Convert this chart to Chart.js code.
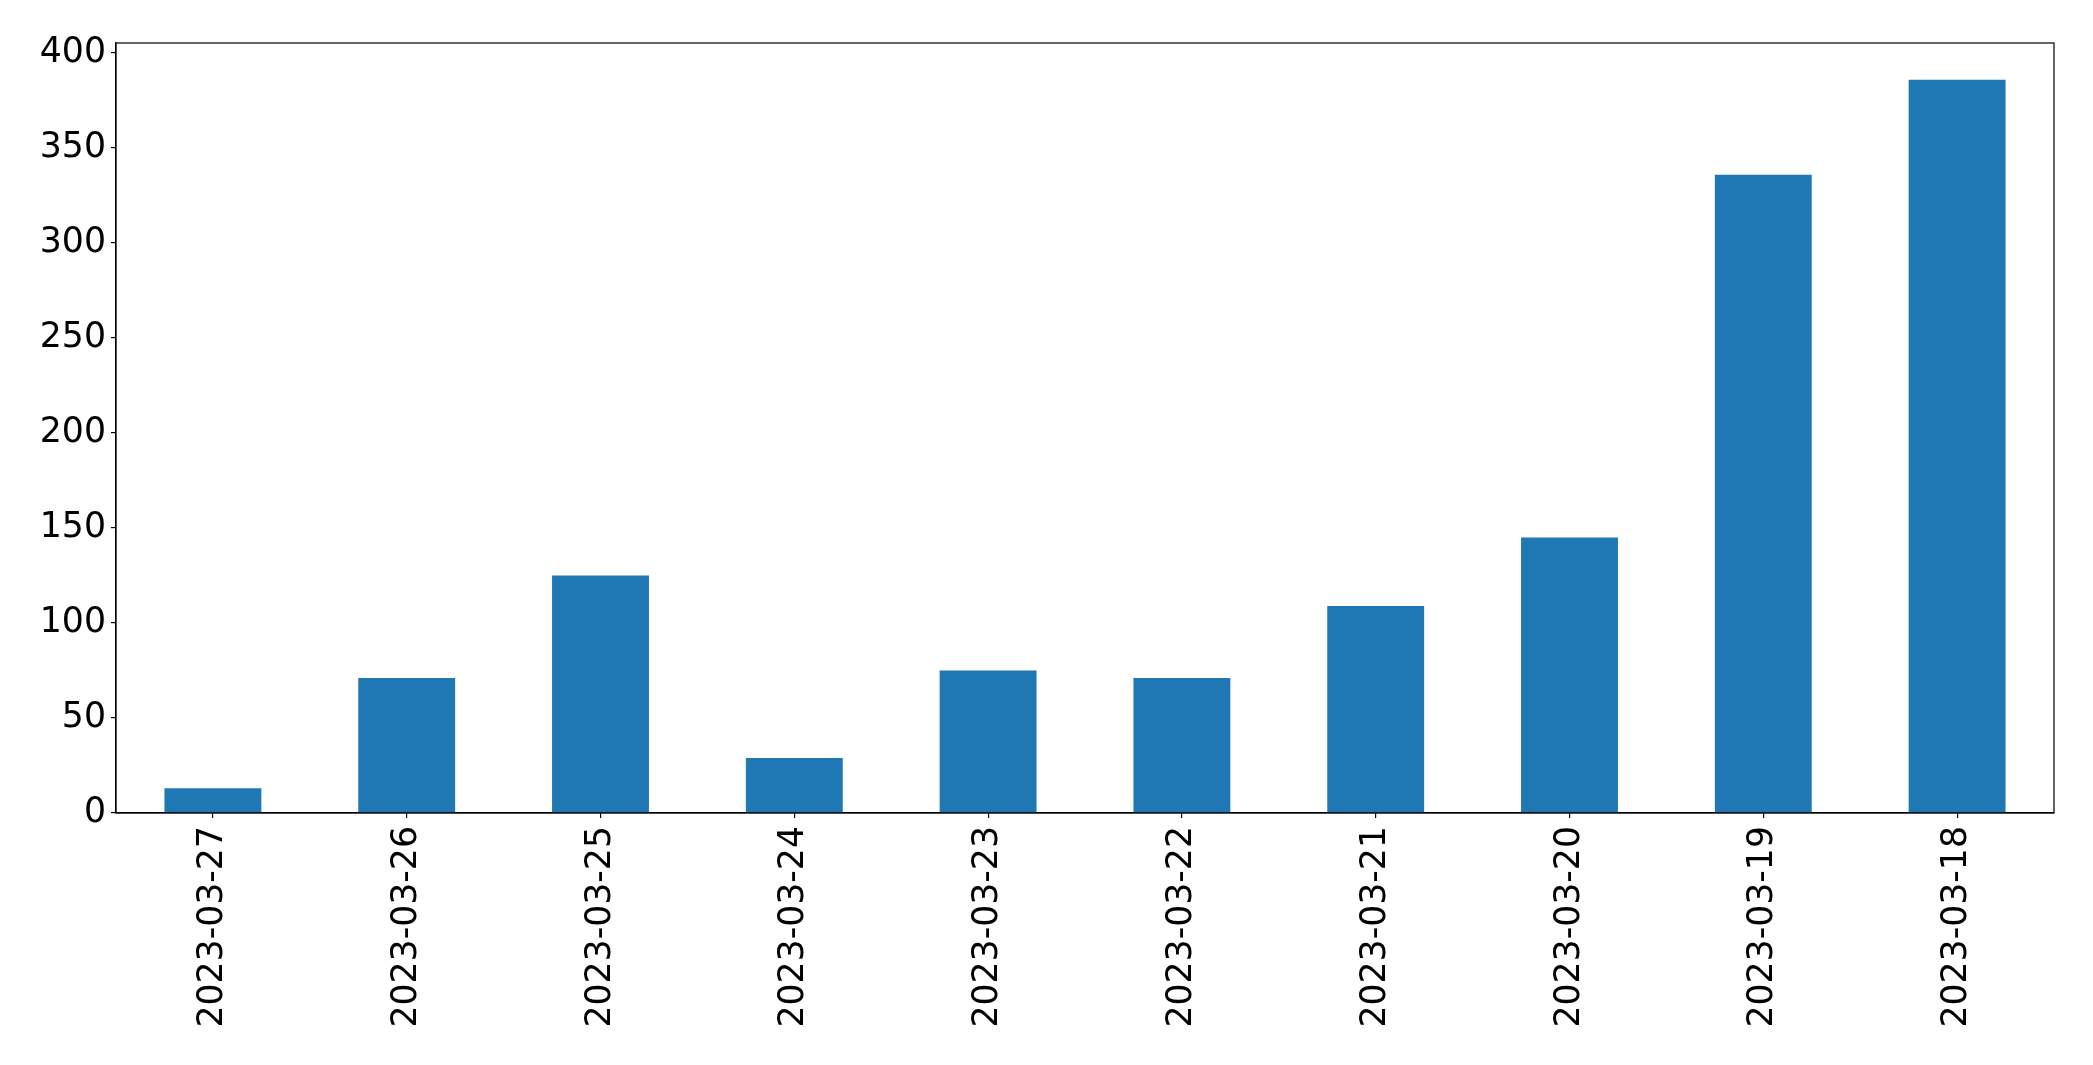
<!DOCTYPE html>
<html>
<head>
<meta charset="utf-8">
<script src="https://cdn.jsdelivr.net/npm/chart.js@4/dist/chart.umd.min.js"></script>
<style>
  body { margin: 0; background: #fff; }
  #wrap { width: 2093px; height: 1065px; }
</style>
</head>
<body>
<div id="wrap"><canvas id="barChart" width="2093" height="1065"></canvas></div>
<script>
// data
const dates = ["2023-03-27", "2023-03-26", "2023-03-25", "2023-03-24", "2023-03-23",
               "2023-03-22", "2023-03-21", "2023-03-20", "2023-03-19", "2023-03-18"];
const counts = [13, 71, 125, 29, 75, 71, 109, 145, 336, 386];
const yTicks = [0, 50, 100, 150, 200, 250, 300, 350, 400];

// draw the box round the plot area like matplotlib does
const frame = {
  id: 'frame',
  afterDatasetsDraw(chart) {
    const a = chart.chartArea;
    const ctx = chart.ctx;
    ctx.save();
    ctx.strokeStyle = '#000';
    ctx.lineWidth = 1.2;
    ctx.strokeRect(a.left, a.top, a.right - a.left, a.bottom - a.top);
    ctx.restore();
  }
};

new Chart(document.getElementById("barChart"), {
  type: 'bar',
  data: {
    labels: dates,
    datasets: [{
      data: counts,
      backgroundColor: "#1f77b4",
      borderWidth: 0,
      barPercentage: 0.5,
      categoryPercentage: 1.0
    }]
  },
  options: {
    responsive: false,
    animation: false,
    layout: { padding: { top: 43, right: 39, left: 0, bottom: 0 } },
    plugins: {
      legend: { display: false },
      tooltip: { enabled: false }
    },
    scales: {
      x: {
        offset: true,
        grid: { display: true, offset: false, drawOnChartArea: false, drawTicks: true, tickLength: 5, color: '#000', lineWidth: 1.2 },
        border: { display: true, color: '#000', width: 1.2 },
        ticks: {
          color: '#000',
          font: { family: 'DejaVu Sans', size: 34.7 },
          minRotation: 90,
          maxRotation: 90,
          padding: 8,
          autoSkip: false
        },
        afterFit(scale) { scale.height = 252; }
      },
      y: {
        min: 0,
        max: 405.3,
        grid: { display: true, drawOnChartArea: false, drawTicks: true, tickLength: 5, color: '#000', lineWidth: 1.2 },
        border: { display: true, color: '#000', width: 1.2 },
        ticks: {
          color: '#000',
          font: { family: 'DejaVu Sans', size: 34.7 },
          padding: 5
        },
        afterBuildTicks(scale) { scale.ticks = yTicks.map(v => ({ value: v })); },
        afterFit(scale) { scale.width = 116; }
      }
    }
  },
  plugins: [frame]
});
</script>
</body>
</html>
